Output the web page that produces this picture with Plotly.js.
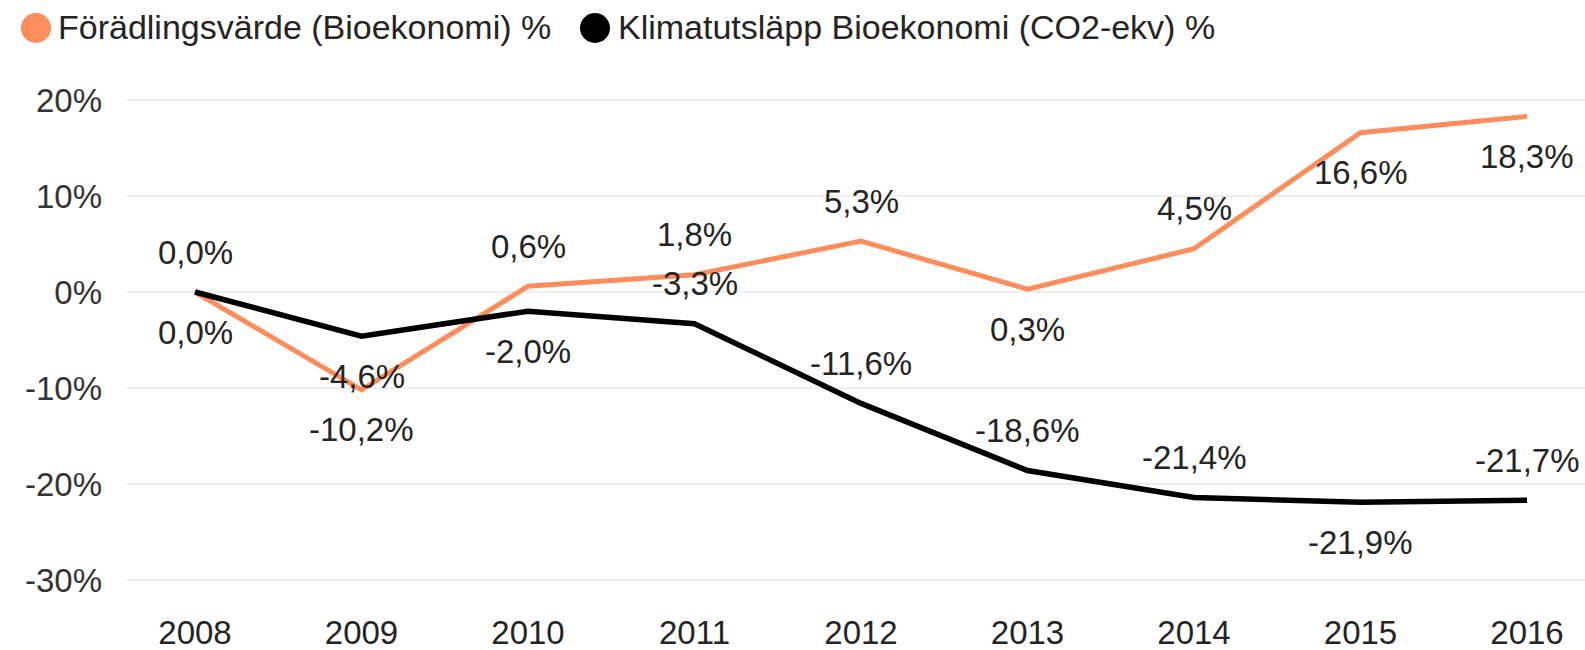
<!DOCTYPE html>
<html>
<head>
<meta charset="utf-8">
<script src="https://cdn.plot.ly/plotly-3.0.1.min.js"></script>
<style>html,body{margin:0;padding:0;background:#fff;}#chart{width:1585px;height:650px;}</style>
</head>
<body>
<div id="chart"></div>
<script>
const years = [2008, 2009, 2010, 2011, 2012, 2013, 2014, 2015, 2016];
const foradlingsvarde = [0.0, -10.2, 0.6, 1.8, 5.3, 0.3, 4.5, 16.6, 18.3];
const klimatutslapp = [0.0, -4.6, -2.0, -3.3, -11.6, -18.6, -21.4, -21.9, -21.7];
const seriesNames = ["Förädlingsvärde (Bioekonomi) %", "Klimatutsläpp Bioekonomi (CO2-ekv) %"];
const yTickVals = [20, 10, 0, -10, -20, -30];
const yTickText = ["20%", "10%", "0%", "-10%", "-20%", "-30%"];

// label placement (style): +1 above, -1 below
const orangeSide = [1, -1, 1, 1, 1, -1, 1, -1, -1];
const blackSide = [-1, -1, -1, 1, 1, 1, 1, -1, 1];

const ORANGE = "#FD8D5C";
const BLACK = "#000000";
const FONT = "Liberation Sans, Arial, sans-serif";
const TXT = "#252423";

// plot area geometry (pixels)
const L = 127, T = 80, W = 1458, H = 520;
function px2paperX(px) { return (px - L) / W; }
function px2paperY(py) { return (T + H - py) / H; }

function fmt(v) {
  return v.toFixed(1).replace(".", ",") + "%";
}

const traces = [
  {x: years, y: foradlingsvarde, mode: "lines", line: {color: ORANGE, width: 5}, showlegend: false, hoverinfo: "skip"},
  {x: years, y: klimatutslapp, mode: "lines", line: {color: BLACK, width: 5.5}, showlegend: false, hoverinfo: "skip"}
];

const annotations = [];
years.forEach((yr, i) => {
  annotations.push({x: yr, y: foradlingsvarde[i], xref: "x", yref: "y", text: fmt(foradlingsvarde[i]),
    showarrow: false, yshift: 40 * orangeSide[i], font: {family: FONT, size: 33, color: TXT}});
  annotations.push({x: yr, y: klimatutslapp[i], xref: "x", yref: "y", text: fmt(klimatutslapp[i]),
    showarrow: false, yshift: 40 * blackSide[i], font: {family: FONT, size: 33, color: TXT}});
});

// manual legend (large circle markers)
const legendItems = [
  {name: seriesNames[0], color: ORANGE, cx: 36, tx: 56},
  {name: seriesNames[1], color: BLACK, cx: 595, tx: 616}
];
const shapes = [];
legendItems.forEach(it => {
  shapes.push({type: "circle", xref: "paper", yref: "paper", xsizemode: "pixel", ysizemode: "pixel",
    xanchor: px2paperX(it.cx), yanchor: px2paperY(28), x0: -15, x1: 15, y0: -15, y1: 15,
    fillcolor: it.color, line: {width: 0}});
  annotations.push({xref: "paper", yref: "paper", x: px2paperX(it.tx), y: px2paperY(27), xanchor: "left", yanchor: "middle",
    text: it.name, showarrow: false, font: {family: FONT, size: 34, color: TXT}});
});

const layout = {
  width: 1585, height: 650,
  paper_bgcolor: "#ffffff", plot_bgcolor: "#ffffff",
  margin: {l: L, r: 1585 - L - W, t: T, b: 650 - T - H},
  font: {family: FONT, size: 33, color: TXT},
  showlegend: false,
  xaxis: {range: [2008 - (195 - L) / 166.5, 2016 + (L + W - 1527) / 166.5], tickvals: years, ticktext: years.map(String),
    showgrid: false, zeroline: false, showline: false, ticks: "", ticklabelstandoff: 10,
    tickfont: {family: FONT, size: 33, color: TXT}, fixedrange: true},
  yaxis: {range: [-30 - 20 / 9.6, 20 + 20 / 9.6], tickvals: yTickVals, ticktext: yTickText, showgrid: true,
    gridcolor: "#EEEEEE", gridwidth: 2, zeroline: false, showline: false, ticks: "", ticklabelstandoff: 24,
    tickfont: {family: FONT, size: 33, color: "#333333"}, fixedrange: true},
  shapes: shapes,
  annotations: annotations
};

Plotly.newPlot("chart", traces, layout, {displayModeBar: false, staticPlot: true});
</script>
</body>
</html>
